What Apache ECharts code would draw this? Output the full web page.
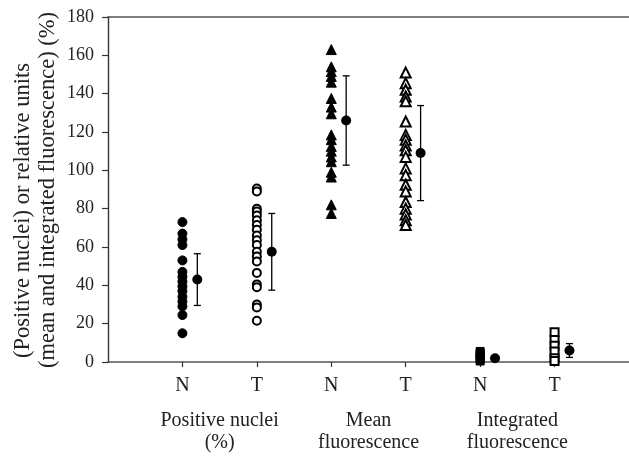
<!DOCTYPE html>
<html><head><meta charset="utf-8">
<script src="https://cdn.jsdelivr.net/npm/echarts@6/dist/echarts.min.js"></script>
<style>html,body{margin:0;padding:0;background:#fff}#c{width:629px;height:458px}</style>
</head><body><div id="c"></div>
<script>
// Data
var tickLabels = ['N','T','N','T','N','T'];
var groupLabels = ['Positive nuclei\n(%)','Mean\nfluorescence','Integrated\nfluorescence'];
var yTitleLines = ['(Positive nuclei) or relative units','(mean and integrated fluorescence) (%)'];
var posNucleiN = [73,67,64,61,53,47,44.5,42,39.5,37,34,31.5,29,24.5,15];
var posNucleiT = [90.5,89,80,78.5,76.5,74,71.5,69,66,63.5,61,57.5,55,52.5,46.5,40.5,39,30,28.5,21.5];
var meanFluoN = [163,154,151.5,149,146,137.5,133,129.5,118.5,116,112.5,110,107,104.5,99,96.5,82,77.5];
var meanFluoT = [151,145.5,142,138.5,136,125.5,118.5,116,113,110.5,107,101,97.5,92.5,89,83.5,80,77,74,71.5];
var intFluoN = [5.5,4.5,3.5,2.5,1.5,0.5];
var intFluoT = [15.5,11.5,8.5,5.5,2,0.5];
var groupMeans = [43,57.5,126,109,2,6];
var groupSD = [13.5,20,23.3,24.8,0.6,3.6];

var chart = echarts.init(document.getElementById('c'));
var font = '"Liberation Serif", "DejaVu Serif", serif';
var groups = [posNucleiN,posNucleiT,meanFluoN,meanFluoT,intFluoN,intFluoT];
var symbols = ['circle','emptyCircle','triangle','emptyTriangle','rect','emptyRect'];
var sizes = [9,8,10,10,8,8];
var series = groups.map(function(g,i){
  return {type:'scatter', xAxisIndex:0, yAxisIndex:0, symbol:symbols[i], symbolSize:sizes[i],
    itemStyle:{color:'#000', borderColor:'#000', borderWidth:1, opacity:1},
    data:g.map(function(v){return [i+1,v];}), z:3, silent:true};
});
var off = 0.2;
series.push({type:'custom', xAxisIndex:0, yAxisIndex:0, silent:true, z:2,
  data: groupMeans.map(function(m,i){return [i+1+off, m-groupSD[i], m+groupSD[i]];}),
  renderItem:function(params, api){
    var lo = api.coord([api.value(0), api.value(1)]);
    var hi = api.coord([api.value(0), api.value(2)]);
    var w = 3.5;
    var st = {stroke:'#000', lineWidth:1.3};
    return {type:'group', children:[
      {type:'line', shape:{x1:lo[0],y1:lo[1],x2:hi[0],y2:hi[1]}, style:st},
      {type:'line', shape:{x1:lo[0]-w,y1:lo[1],x2:lo[0]+w,y2:lo[1]}, style:st},
      {type:'line', shape:{x1:hi[0]-w,y1:hi[1],x2:hi[0]+w,y2:hi[1]}, style:st}
    ]};
  }});
series.push({type:'scatter', xAxisIndex:0, yAxisIndex:0, symbol:'circle', symbolSize:10, z:4, silent:true,
  itemStyle:{color:'#000', opacity:1}, data: groupMeans.map(function(m,i){return [i+1+off, m];})});

chart.setOption({
  animation:false,
  grid:{left:108, top:17, right:0, height:345, containLabel:false, outerBoundsMode:'none'},
  graphic:[
    {type:'text', x:23, y:358, rotation:Math.PI/2, silent:true,
     style:{text:yTitleLines[0], fill:'#222', font:'22.5px ' + font, textAlign:'left', textVerticalAlign:'middle'}},
    {type:'text', x:48, y:368, rotation:Math.PI/2, silent:true,
     style:{text:yTitleLines[1], fill:'#222', font:'22.5px ' + font, textAlign:'left', textVerticalAlign:'middle'}}
  ],
  xAxis:[
    {type:'value', min:0, max:7, position:'bottom',
     axisLine:{show:true, onZero:false, lineStyle:{color:'#555', width:1.6}},
     axisTick:{show:true, length:5, lineStyle:{color:'#333', width:1.2}, customValues:[1,2,3,4,5,6]},
     axisLabel:{customValues:[1,2,3,4,5,6], formatter:function(v){return tickLabels[Math.round(v)-1]||'';},
       color:'#222', fontFamily:font, fontSize:20, margin:14},
     splitLine:{show:false}},
    {type:'value', min:0, max:7, position:'bottom', offset:40,
     axisLine:{show:false}, axisTick:{show:false},
     axisLabel:{customValues:[1.5,3.5,5.5], formatter:function(v){return groupLabels[Math.round((v-1.5)/2)]||'';},
       color:'#222', fontFamily:font, fontSize:20, lineHeight:22, verticalAlign:'top'},
     splitLine:{show:false}},
    {type:'value', min:0, max:7, position:'top',
     axisLine:{show:true, lineStyle:{color:'#555', width:1.6}}, axisTick:{show:false}, axisLabel:{show:false},
     splitLine:{show:false}}
  ],
  yAxis:{type:'value', min:0, max:180, interval:20,
    axisLine:{show:true, lineStyle:{color:'#333', width:1.4}},
    axisTick:{show:true, inside:false, length:6, lineStyle:{color:'#333', width:1.2}},
    axisLabel:{color:'#222', fontFamily:font, fontSize:18, margin:14},
    splitLine:{show:false}},
  series:series
});
</script></body></html>
